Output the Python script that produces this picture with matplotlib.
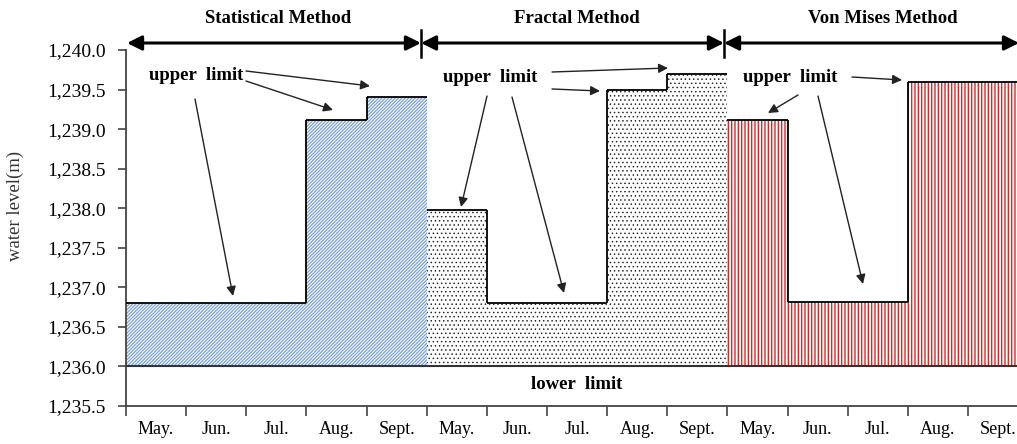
import matplotlib
matplotlib.use("Agg")
import matplotlib.pyplot as plt
from matplotlib.ticker import FuncFormatter, FixedLocator, NullFormatter

# ---------------- data ----------------
months = ['May.', 'Jun.', 'Jul.', 'Aug.', 'Sept.']
methods = ['Statistical Method', 'Fractal Method', 'Von Mises Method']
statistical = [1236.8, 1236.8, 1236.8, 1239.12, 1239.4]
fractal = [1237.98, 1236.8, 1236.8, 1239.49, 1239.7]
von_mises = [1239.12, 1236.82, 1236.82, 1239.6, 1239.6]
lower_limit = 1236.0
y_ticks = [1235.5, 1236.0, 1236.5, 1237.0, 1237.5, 1238.0, 1238.5, 1239.0, 1239.5, 1240.0]

series = [statistical, fractal, von_mises]
hatches = ['/' * 10, '....', '|||||']
hatch_colors = ['#7aa0d8', '#222222', '#d42a2a']
hatch_lws = [0.9, 0.55, 1.0]

plt.rcParams['font.family'] = ['Liberation Serif', 'DejaVu Serif']
plt.rcParams['hatch.linewidth'] = 1.0

W, H = 1017, 444
fig = plt.figure(figsize=(W / 100, H / 100), dpi=100)
ax_left_px, ax_top_px, ax_bot_px = 126, 50, 406
ax = fig.add_axes([ax_left_px / W, (H - ax_bot_px) / H, 1 - ax_left_px / W, (ax_bot_px - ax_top_px) / H])

px_per_x = 60.14
xmax = (W - ax_left_px) / px_per_x
ax.set_xlim(0, xmax)
ax.set_ylim(1235.5, 1240.0)
px_per_y = (ax_bot_px - ax_top_px) / 4.5


def P(xp, yp):
    """pixel (from top-left) -> data coordinates, for annotation placement"""
    return ((xp - ax_left_px) / px_per_x, 1240.0 - (yp - ax_top_px) / px_per_y)


n = len(months)
for k, vals in enumerate(series):
    x0 = k * n
    xs = [x0 + i for i in range(n)]
    with plt.rc_context({'hatch.linewidth': hatch_lws[k]}):
        bars = ax.bar(xs, [v - lower_limit for v in vals], bottom=lower_limit, width=1.0, align='edge',
                      facecolor='white', edgecolor=hatch_colors[k], hatch=hatches[k], linewidth=0,
                      zorder=1)
    for b in bars:
        if hasattr(b, 'set_hatch_linewidth'):
            b.set_hatch_linewidth(hatch_lws[k])
    # outline of the upper limit
    ax.hlines(vals, xs, [x + 1 for x in xs], colors='black', linewidth=1.3, zorder=3)
    for i in range(1, n):
        if vals[i] != vals[i - 1]:
            ax.vlines(x0 + i, min(vals[i], vals[i - 1]), max(vals[i], vals[i - 1]),
                      colors='black', linewidth=1.3, zorder=3)

# lower limit line
ax.axhline(lower_limit, color='#333333', linewidth=1.5, zorder=4)

# axes styling
for s in ['top', 'right']:
    ax.spines[s].set_visible(False)
for s in ['left', 'bottom']:
    ax.spines[s].set_color('#444444')
    ax.spines[s].set_linewidth(1.3)

ax.set_yticks(y_ticks)
ax.yaxis.set_major_formatter(FuncFormatter(lambda v, p: f"{v:,.1f}"))
ax.tick_params(axis='y', direction='out', length=6, width=1.2, color='#444444',
               labelsize=14, pad=8.5)

all_months = months * len(methods)
ax.xaxis.set_major_locator(FixedLocator(list(range(len(all_months)))))
ax.xaxis.set_major_formatter(NullFormatter())
ax.xaxis.set_minor_locator(FixedLocator([i + 0.5 for i in range(len(all_months))]))
ax.set_xticklabels(all_months, minor=True)
ax.tick_params(axis='x', which='major', direction='out', length=7, width=1.2, color='#444444')
ax.tick_params(axis='x', which='minor', length=0, labelsize=13, pad=11)

fig.text(15 / W, 1 - 206 / H, 'water level(m)', rotation=90, ha='center', va='center',
         fontsize=13.5, color='#333333')

# method headers with double arrows
arrow_y = 43
seps = [421, 724]
spans = [(127, 421), (421, 724), (724, 1019)]
title_x = [278, 577, 883]
for k, name in enumerate(methods):
    a, b = spans[k]
    ax.annotate('', xy=P(b, arrow_y), xytext=P(a, arrow_y), xycoords='data',
                arrowprops=dict(arrowstyle='<|-|>', mutation_scale=22, lw=2.2, color='black',
                                shrinkA=0, shrinkB=0), annotation_clip=False)
    ax.text(*P(title_x[k], 18), name, ha='center', va='center', fontsize=13.5,
            fontweight='bold', clip_on=False)
for s in seps:
    x, y1 = P(s, 30)
    _, y2 = P(s, 57)
    ax.plot([x, x], [y1, y2], color='black', lw=1.8, clip_on=False)

# upper limit annotations
texts = [(196, 75), (490, 77), (790, 77)]
arrows = [
    [((246, 71), (370, 86)), ((246, 81), (333, 110)), ((195, 99), (233, 296))],
    [((552, 72), (668, 68)), ((552, 89), (600, 91)), ((487, 96), (461, 207)), ((512, 97), (564, 293))],
    [((852, 77), (902, 80)), ((798, 95), (768, 113)), ((818, 96), (863, 284))],
]
for (tx, ty), arrs in zip(texts, arrows):
    ax.text(*P(tx, ty), 'upper  limit', ha='center', va='center', fontsize=13.5, fontweight='bold')
    for s, e in arrs:
        ax.annotate('', xy=P(*e), xytext=P(*s),
                    arrowprops=dict(arrowstyle='-|>', mutation_scale=14, lw=1.0, color='#222222',
                                    shrinkA=0, shrinkB=0))

ax.text(*P(577, 384), 'lower  limit', ha='center', va='center', fontsize=13.5, fontweight='bold')

fig.savefig('out.png', dpi=100)
